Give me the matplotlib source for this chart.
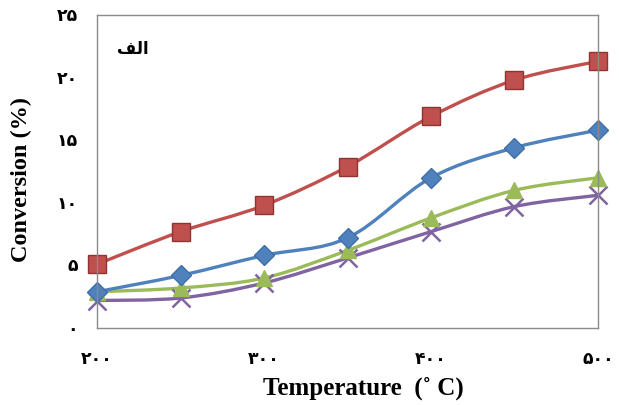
import matplotlib
matplotlib.use('Agg')
import matplotlib.pyplot as plt
from matplotlib.path import Path
from matplotlib.patches import PathPatch
import numpy as np

# data
temperature = [200, 250, 300, 350, 400, 450, 500]
conv_red = [5.1, 7.7, 9.8, 12.9, 16.9, 19.8, 21.3]
conv_blue = [2.9, 4.2, 5.8, 7.2, 12.0, 14.4, 15.8]
conv_green = [2.9, 3.2, 4.0, 6.2, 8.8, 11.0, 12.0]
conv_purple = [2.2, 2.4, 3.6, 5.6, 7.7, 9.7, 10.6]

x_ticks = [200, 300, 400, 500]
x_tick_labels = ['۲۰۰', '۳۰۰', '۴۰۰', '۵۰۰']
y_ticks = [0, 5, 10, 15, 20, 25]
y_tick_labels = ['۰', '۵', '۱۰', '۱۵', '۲۰', '۲۵']
panel_label = '\uFED2\uFEDF\u0627'  # "الف" in shaped visual order


def smooth_path(x, y, t=0.5):
    # Excel style smoothed line as cubic bezier segments
    x = np.asarray(x, float)
    y = np.asarray(y, float)
    verts = [(x[0], y[0])]
    codes = [Path.MOVETO]
    n = len(x)
    for i in range(n - 1):
        x0, y0 = (x[i - 1], y[i - 1]) if i > 0 else (x[i], y[i])
        x3, y3 = (x[i + 2], y[i + 2]) if i + 2 < n else (x[i + 1], y[i + 1])
        c1 = (x[i] + (x[i + 1] - x0) * t / 3, y[i] + (y[i + 1] - y0) * t / 3)
        c2 = (x[i + 1] - (x3 - x[i]) * t / 3, y[i + 1] - (y3 - y[i]) * t / 3)
        verts += [c1, c2, (x[i + 1], y[i + 1])]
        codes += [Path.CURVE4] * 3
    return Path(verts, codes)


fig = plt.figure(figsize=(6.19, 4.05), dpi=100)
ax = fig.add_axes([0.157, 0.19, 0.809, 0.773])

series = [
    (conv_purple, '#8064A2', 'x', 13, '#8064A2', 1.8),
    (conv_green, '#9BBB59', '^', 12, '#9BBB59', 1.0),
    (conv_blue, '#4F81BD', 'D', 10, '#3f6fa8', 1.0),
    (conv_red, '#C0504D', 's', 13, '#8c3532', 1.0),
]
for vals, col, mk, ms, mec, mew in series:
    ax.add_patch(PathPatch(smooth_path(temperature, vals), facecolor='none',
                           edgecolor=col, lw=2.4, capstyle='round'))
    ax.plot(temperature, vals, ls='none', marker=mk, ms=ms, color=col,
            mfc=col, mec=mec, mew=mew, clip_on=False)

ax.set_xlim(200, 500)
ax.set_ylim(0, 25)
ax.set_xticks(x_ticks)
ax.set_yticks(y_ticks)
tick_font = dict(family=['Liberation Serif', 'DejaVu Sans'], fontweight='bold', fontsize=12.5)
ax.set_xticklabels(x_tick_labels, **tick_font)
ax.set_yticklabels(y_tick_labels, **tick_font)
ax.tick_params(axis='y', length=0, pad=14)
ax.tick_params(axis='x', length=0, pad=17)
for s in ax.spines.values():
    s.set_color('#8a8a8a')
    s.set_linewidth(1.0)

ax.set_xlabel('Temperature  (˚ C)', family='Liberation Serif', fontweight='bold',
              fontsize=18)
ax.set_ylabel('Conversion (%)', family='Liberation Serif', fontweight='bold',
              fontsize=17.5)
ax.xaxis.set_label_coords(0.531, -0.155)
ax.yaxis.set_label_coords(-0.13, 0.475)
ax.text(0.04, 0.89, panel_label, transform=ax.transAxes, family='DejaVu Sans',
        fontweight='bold', fontsize=12, ha='left', va='center')

fig.savefig('out.png', dpi=100)
